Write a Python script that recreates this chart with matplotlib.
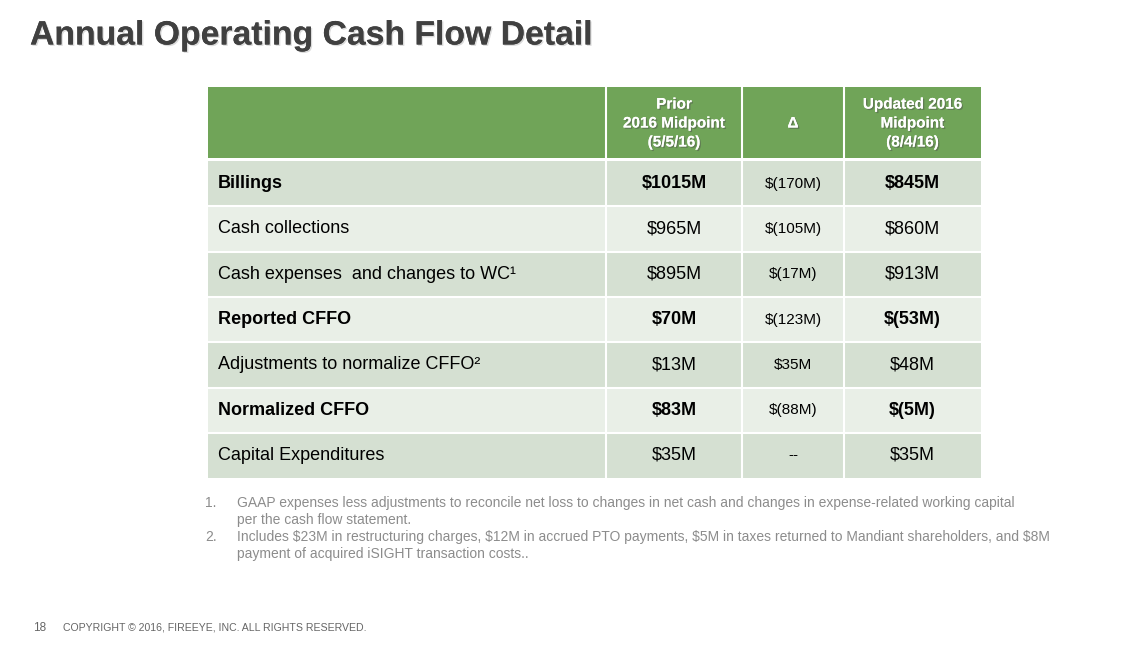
import matplotlib
matplotlib.use("Agg")
import matplotlib.pyplot as plt
import matplotlib.patches as patches
import matplotlib.patheffects as pe

plt.rcParams['font.family'] = ['Liberation Sans', 'DejaVu Sans']

# данные таблицы
header_labels = ["", "Prior\n2016 Midpoint\n(5/5/16)", "Δ", "Updated 2016\nMidpoint\n(8/4/16)"]
row_labels = ["Billings", "Cash collections", "Cash expenses  and changes to WC¹",
              "Reported CFFO", "Adjustments to normalize CFFO²", "Normalized CFFO",
              "Capital Expenditures"]
prior_values = ["$1015M", "$965M", "$895M", "$70M", "$13M", "$83M", "$35M"]
delta_values = ["$(170M)", "$(105M)", "$(17M)", "$(123M)", "$35M", "$(88M)", "--"]
updated_values = ["$845M", "$860M", "$913M", "$(53M)", "$48M", "$(5M)", "$35M"]
bold_rows = [True, False, False, True, False, True, False]

footnotes = [
    ("1.", "GAAP expenses less adjustments to reconcile net loss to changes in net cash and changes in expense-related working capital\nper the cash flow statement."),
    ("2.", "Includes $23M in restructuring charges, $12M in accrued PTO payments, $5M in taxes returned to Mandiant shareholders, and $8M\npayment of acquired iSIGHT transaction costs.."),
]

GREEN = "#70a458"
ROW_DARK = "#d5e0d2"
ROW_LIGHT = "#e9efe7"
NOTE_GREY = "#8c8c8c"

fig = plt.figure(figsize=(11.23, 6.48), dpi=100)
ax = fig.add_axes([0, 0, 1, 1])
ax.set_xlim(0, 1123)
ax.set_ylim(648, 0)
ax.axis("off")

# заголовок
ax.text(30, 36, "Annual Operating Cash Flow Detail", fontsize=24.3, fontweight="bold",
        color="#404040", va="center", ha="left",
        path_effects=[pe.withSimplePatchShadow(offset=(1, -1), alpha=0.15), pe.Normal()])

# границы колонок
col_x = [208, 606, 742, 844, 981]
head_top, head_bot = 87, 158
row_top = 161
row_h = 45.3

# шапка
ax.add_patch(patches.Rectangle((col_x[0], head_top), col_x[-1] - col_x[0], head_bot - head_top,
                               facecolor=GREEN, edgecolor="none"))
for i, lab in enumerate(header_labels):
    if not lab:
        continue
    cx = (col_x[i] + col_x[i + 1]) / 2
    ax.text(cx, (head_top + head_bot) / 2 + 1, lab, ha="center", va="center", color="white",
            fontsize=11, fontweight="bold", linespacing=1.45,
            path_effects=[pe.withSimplePatchShadow(offset=(1, -1), alpha=0.45), pe.Normal()])

# строки
for r, label in enumerate(row_labels):
    y0 = row_top + r * row_h
    color = ROW_DARK if r % 2 == 0 else ROW_LIGHT
    ax.add_patch(patches.Rectangle((col_x[0], y0), col_x[-1] - col_x[0], row_h,
                                   facecolor=color, edgecolor="none"))
    yc = y0 + row_h / 2
    w = "bold" if bold_rows[r] else "normal"
    ax.text(218, yc, label, ha="left", va="center", fontsize=13, fontweight=w, color="black")
    ax.text((col_x[1] + col_x[2]) / 2, yc, prior_values[r], ha="center", va="center",
            fontsize=13, fontweight=w, color="black", parse_math=False)
    ax.text((col_x[2] + col_x[3]) / 2, yc, delta_values[r], ha="center", va="center",
            fontsize=11, color="black", parse_math=False)
    ax.text((col_x[3] + col_x[4]) / 2, yc, updated_values[r], ha="center", va="center",
            fontsize=13, fontweight=w, color="black", parse_math=False)

# белые линии сетки
table_bot = row_top + len(row_labels) * row_h
for r in range(1, len(row_labels)):
    y = row_top + r * row_h
    ax.plot([col_x[0], col_x[-1]], [y, y], color="white", lw=1.5)
for x in col_x[1:-1]:
    ax.plot([x, x], [head_top, table_bot], color="white", lw=1.5)

# сноски
fy = 496
for num, txt in footnotes:
    ax.text(205, fy, num, ha="left", va="top", fontsize=10, color=NOTE_GREY)
    ax.text(237, fy, txt, ha="left", va="top", fontsize=10, color=NOTE_GREY,
            linespacing=1.25, parse_math=False)
    fy += 34

# подвал
ax.text(33, 628, "18", ha="left", va="center", fontsize=8.5, color="#666666")
ax.text(63, 628, "COPYRIGHT © 2016, FIREEYE, INC. ALL RIGHTS RESERVED.", ha="left",
        va="center", fontsize=7.6, color="#666666")

plt.savefig("out.png", dpi=100)
